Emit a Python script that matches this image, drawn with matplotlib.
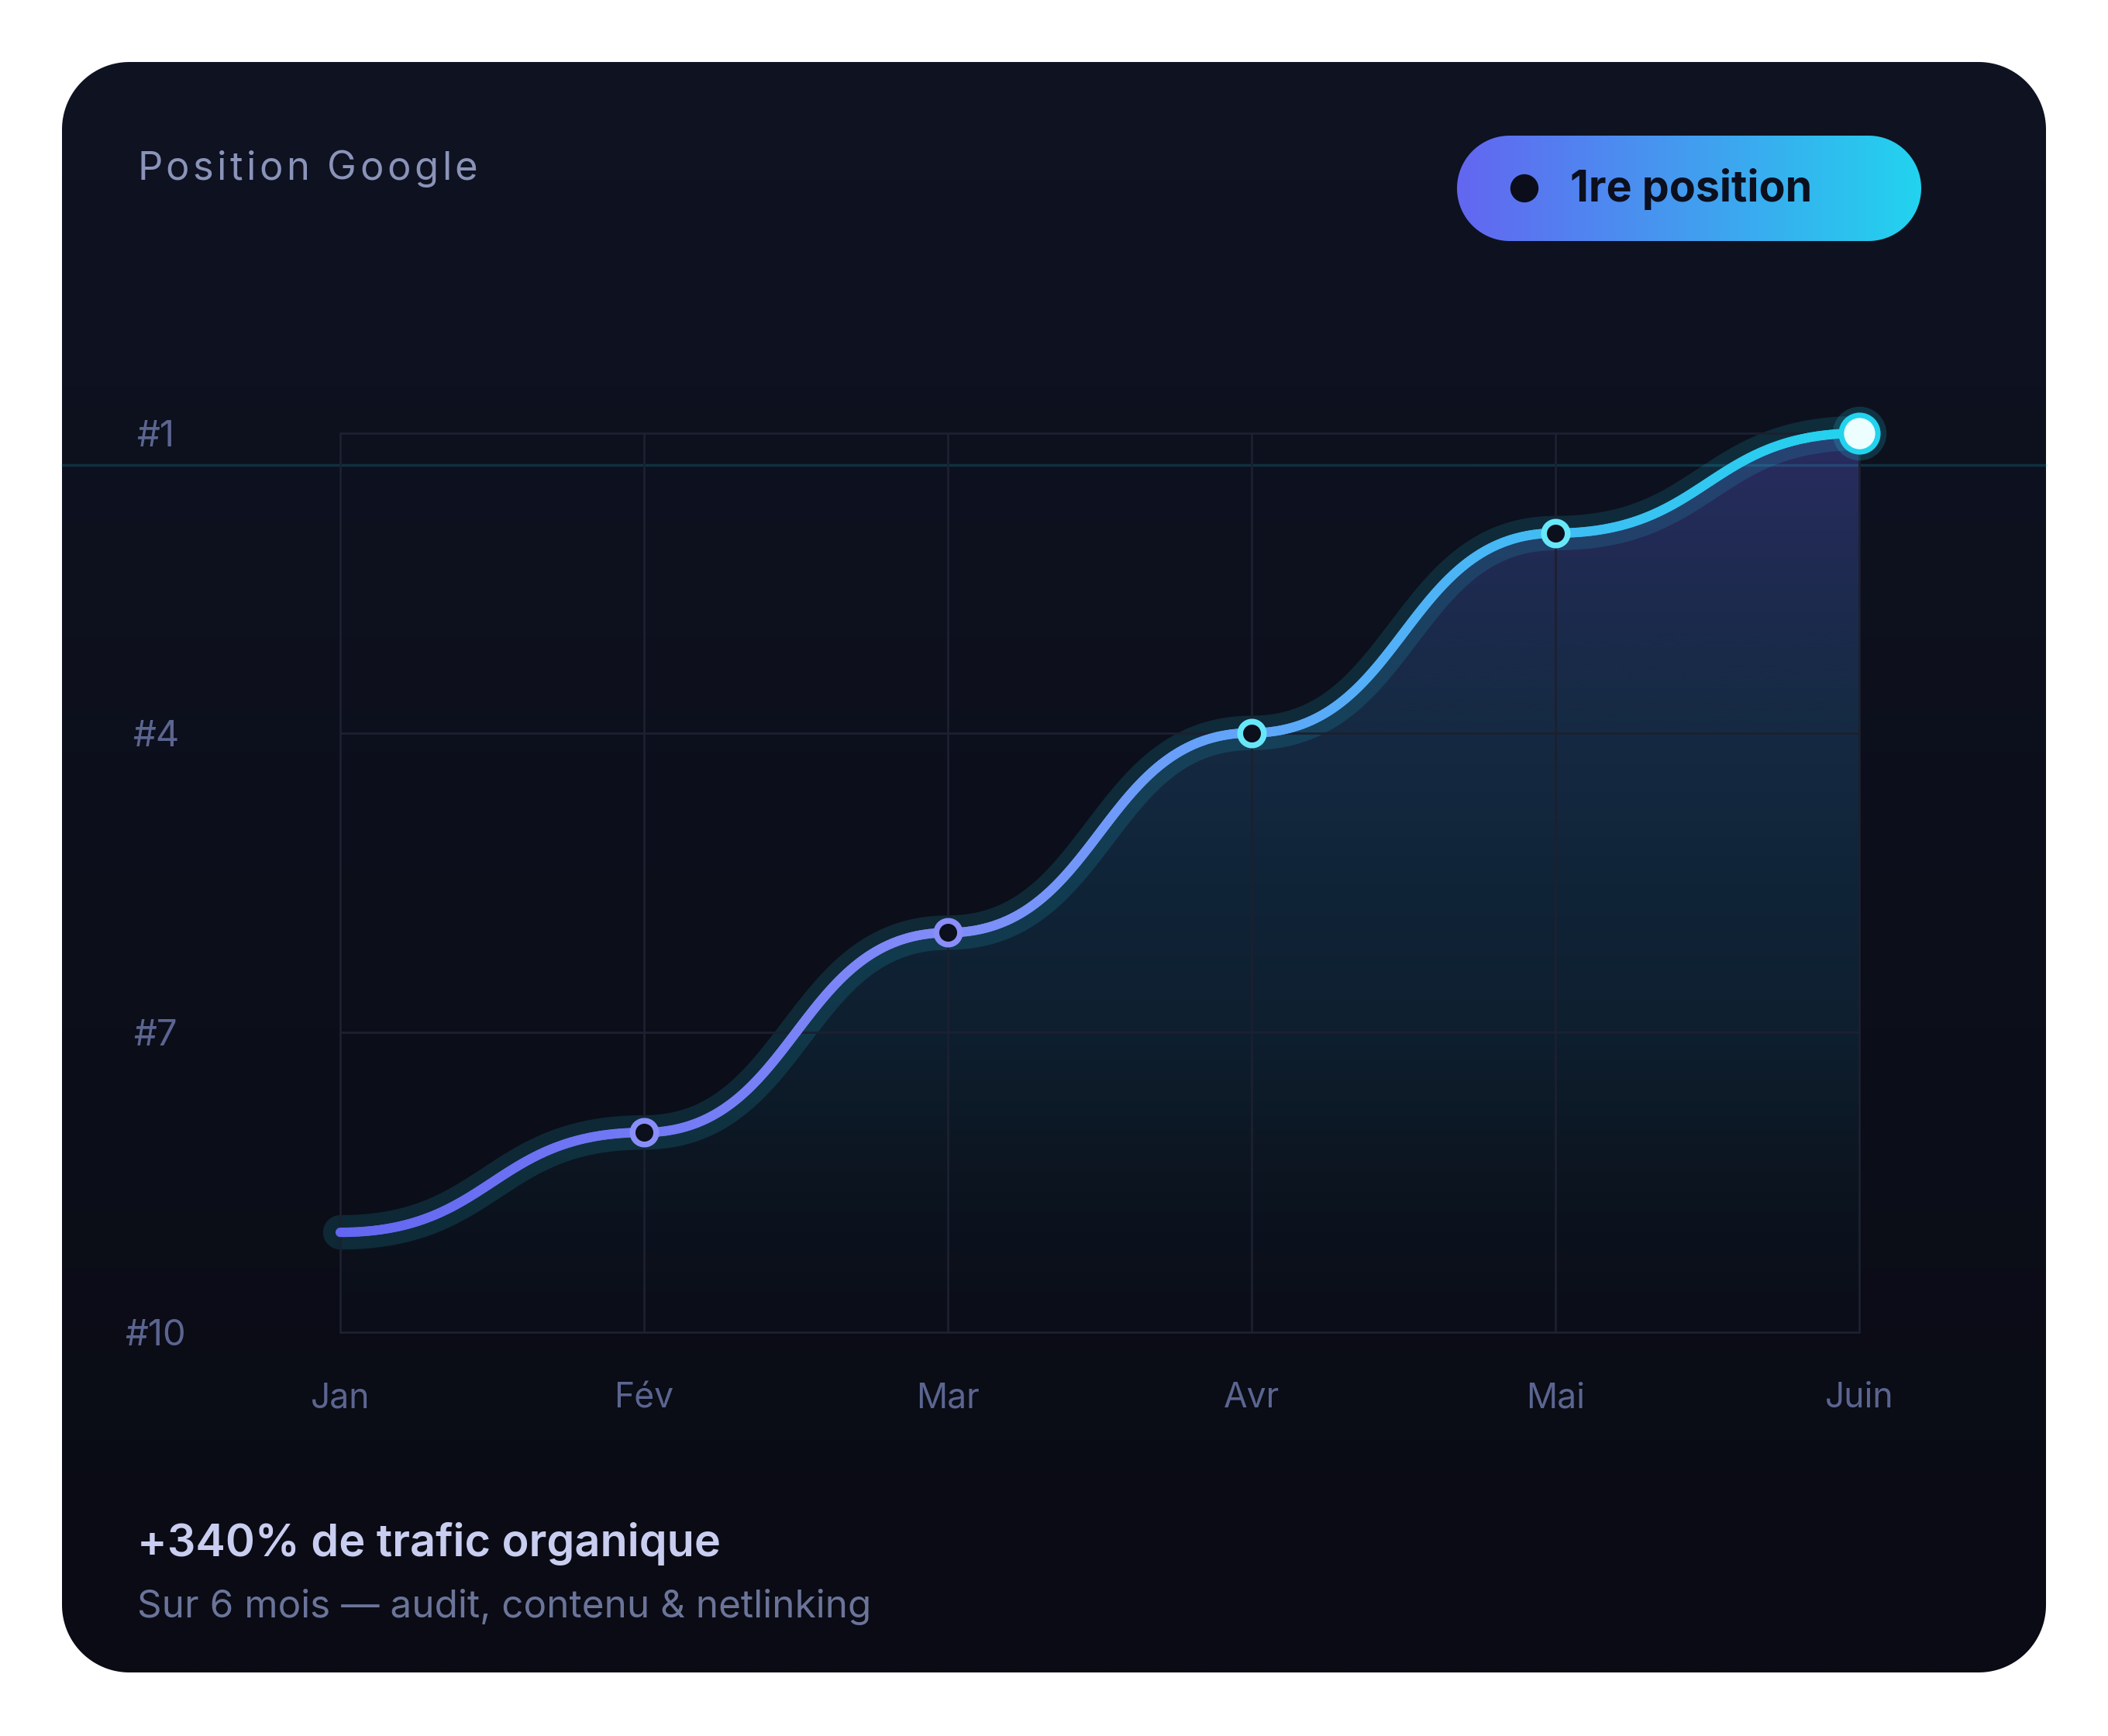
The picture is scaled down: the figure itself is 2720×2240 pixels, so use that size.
import numpy as np
import matplotlib
matplotlib.use('Agg')
import matplotlib.pyplot as plt
from matplotlib.patches import Circle, Polygon, PathPatch
from matplotlib.path import Path
from matplotlib.collections import LineCollection
from matplotlib.colors import LinearSegmentedColormap, to_rgba

plt.rcParams['font.family'] = ['Inter', 'DejaVu Sans']

# ---------------- data ----------------
months = ['Jan', 'Fév', 'Mar', 'Avr', 'Mai', 'Juin']
positions = [9, 8, 6, 4, 2, 1]
y_ticks = [1, 4, 7, 10]
y_tick_labels = ['#1', '#4', '#7', '#10']
title = 'Position Google'
badge_label = '1re position'
headline = '+340% de trafic organique'
subline = 'Sur 6 mois — audit, contenu & netlinking'

W, H = 2720, 2240
fig = plt.figure(figsize=(W / 100, H / 100), dpi=100, facecolor='white')
bg = fig.add_axes([0, 0, 1, 1])
bg.axis('off')


def rounded_rect(x, y, w, h, r, n=40):
    """Rounded rectangle with true circular corners (y axis pointing down)."""
    pts = []
    corners = [(x + w - r, y + r, -90, 0), (x + w - r, y + h - r, 0, 90),
               (x + r, y + h - r, 90, 180), (x + r, y + r, 180, 270)]
    for cx, cy, a0, a1 in corners:
        a = np.radians(np.linspace(a0, a1, n))
        pts.append(np.column_stack([cx + r * np.cos(a), cy + r * np.sin(a)]))
    pts = np.vstack(pts)
    return Path(np.vstack([pts, pts[:1]]), closed=True)


# ---------------- card ----------------
card = PathPatch(rounded_rect(80, 80, 2560, 2078, 87), fc='none', ec='none')
bg.add_patch(card)
g = np.linspace(0, 1, 256)[:, None, None]
c_top = np.array(to_rgba('#0f1322'))
c_bot = np.array(to_rgba('#0a0b14'))
card_img = c_top + (c_bot - c_top) * g
im = bg.imshow(card_img, extent=(80, 2640, 2158, 80), aspect='auto', zorder=0.5,
               interpolation='bilinear')
im.set_clip_path(card)

# ---------------- badge ----------------
pill = PathPatch(rounded_rect(1880, 175, 599, 136, 68), fc='none', ec='none')
bg.add_patch(pill)
gx = np.linspace(0, 1, 256)[None, :, None]
b_l = np.array(to_rgba('#6366f1'))
b_r = np.array(to_rgba('#22d3ee'))
badge_img = b_l + (b_r - b_l) * gx
imb = bg.imshow(badge_img, extent=(1880, 2479, 311, 175), aspect='auto', zorder=2,
                interpolation='bilinear')
imb.set_clip_path(pill)
bg.add_patch(Circle((1967, 243), 17.5, color='#0b0e1a', zorder=3))
bg.text(2026, 260, badge_label, fontsize=40, fontweight='bold', color='#0b0f1e',
        ha='left', va='baseline', zorder=3)

bg.set_xlim(0, W)
bg.set_ylim(H, 0)

# ---------------- title with tracking ----------------
renderer = fig.canvas.get_renderer()


def text_width(s, **kw):
    t = bg.text(0, 0, s, **kw)
    w = t.get_window_extent(renderer).width
    t.remove()
    return w


def tracked_text(x, y, s, target_width, **kw):
    wref = text_width('|', **kw)
    adv = [0.0] + [text_width(s[:i] + '|', **kw) - wref for i in range(1, len(s))]
    w0 = text_width(s, **kw)
    track = (target_width - w0) / (len(s) - 1)
    for i, ch in enumerate(s):
        if ch != ' ':
            bg.text(x + adv[i] + i * track, y, ch, ha='left', va='baseline', **kw)


tracked_text(177, 232, title, 439, fontsize=36.5, color='#8a93b8')

bg.text(177, 2008, headline, fontsize=41.5, fontweight='semibold', color='#c9cef0',
        ha='left', va='baseline')
bg.text(177, 2087, subline, fontsize=35.6, color='#6b7499', ha='left', va='baseline')

# ---------------- chart ----------------
ax = fig.add_axes([439 / W, 1 - 1719 / H, 1960 / W, 1160 / H])
ax.patch.set_alpha(0)
for s in ax.spines.values():
    s.set_visible(False)

xv = np.arange(len(months), dtype=float)
yv = np.array(positions, dtype=float)


def bump_curve(x, y, n=120):
    X, Y = [], []
    for i in range(len(x) - 1):
        x0, x1, y0, y1 = x[i], x[i + 1], y[i], y[i + 1]
        xm = (x0 + x1) / 2
        t = np.linspace(0, 1, n, endpoint=(i == len(x) - 2))
        bx = (1 - t) ** 3 * x0 + 3 * (1 - t) ** 2 * t * xm + 3 * (1 - t) * t ** 2 * xm + t ** 3 * x1
        by = (1 - t) ** 3 * y0 + 3 * (1 - t) ** 2 * t * y0 + 3 * (1 - t) * t ** 2 * y1 + t ** 3 * y1
        X.append(bx)
        Y.append(by)
    return np.concatenate(X), np.concatenate(Y)


cx, cy = bump_curve(xv, yv)

# area fill with vertical gradient
poly = Polygon(np.column_stack([np.r_[cx, cx[-1], cx[0]], np.r_[cy, 10, 10]]),
               closed=True, fc='none', ec='none')
ax.add_patch(poly)
stops_y = [1.0, 2.8, 4.0, 5.5, 7.0, 8.4, 10.0]
stops_c = ['#292c60', '#1c2a4d', '#152a42', '#102438', '#0e1f2f', '#0c1520', '#0b0d18']
yy = np.linspace(1, 10, 512)
cols = np.array([to_rgba(c) for c in stops_c])
fill_img = np.stack([np.interp(yy, stops_y, cols[:, k]) for k in range(4)], axis=1)[:, None, :]
imf = ax.imshow(fill_img, extent=(0, 5, 10, 1), aspect='auto', zorder=1,
                interpolation='bilinear')
imf.set_clip_path(poly)

# grid
ax.set_xticks(xv, months)
ax.set_yticks(y_ticks, y_tick_labels)
ax.grid(True, color='#1c2030', lw=2, zorder=1.2)
ax.set_axisbelow(False)
for gl in ax.get_xgridlines() + ax.get_ygridlines():
    gl.set_clip_on(False)
    gl.set_zorder(1.2)

# teal reference line across the card
ax.plot([80, 2640], [600, 600], transform=bg.transData, color=(34 / 255, 211 / 255, 238 / 255, 0.17),
        lw=2.5, clip_on=False, zorder=1.5)

# glow
ax.plot(cx, cy, color=(34 / 255, 211 / 255, 238 / 255, 0.14), lw=32,
        solid_capstyle='round', clip_on=False, zorder=2)

# main gradient line
cmap = LinearSegmentedColormap.from_list('ln', [(0, '#6366f1'), (0.4, '#818cf8'),
                                                (0.6, '#60a5fa'), (1, '#22d3ee')])
pts = np.column_stack([cx, cy])
segs = np.stack([pts[:-1], pts[1:]], axis=1)
mid = (cx[:-1] + cx[1:]) / 2 / 5
lc = LineCollection(segs, colors=cmap(mid), linewidths=8.8, capstyle='round', zorder=3)
lc.set_clip_on(False)
ax.add_collection(lc)

# markers
edge_cols = {1: '#8a8ef8', 2: '#8a8ef8', 3: '#67e8f9', 4: '#67e8f9'}
for i in range(1, len(xv) - 1):
    ax.plot(xv[i], yv[i], 'o', ms=22, mfc='#0c0f1c', mec=edge_cols[i], mew=5.4,
            clip_on=False, zorder=4)
ax.plot(xv[-1], yv[-1], 'o', ms=50, mfc=(34 / 255, 211 / 255, 238 / 255, 0.18), mec='none',
        clip_on=False, zorder=4)
ax.plot(xv[-1], yv[-1], 'o', ms=34, mfc='#ecfeff', mec='#22d3ee', mew=5,
        clip_on=False, zorder=5)

ax.set_xlim(0, 5)
ax.set_ylim(10, 1)

ax.tick_params(length=0, colors='#5b6590')
ax.tick_params(axis='y', pad=171.4, labelsize=34)
ax.tick_params(axis='x', pad=58.3, labelsize=32)
plt.setp(ax.get_yticklabels(), ha='center', va='center_baseline', color='#5b6590')
plt.setp(ax.get_xticklabels(), va='center_baseline', color='#5b6590')

fig.savefig('out.png', dpi=100, facecolor='white')
